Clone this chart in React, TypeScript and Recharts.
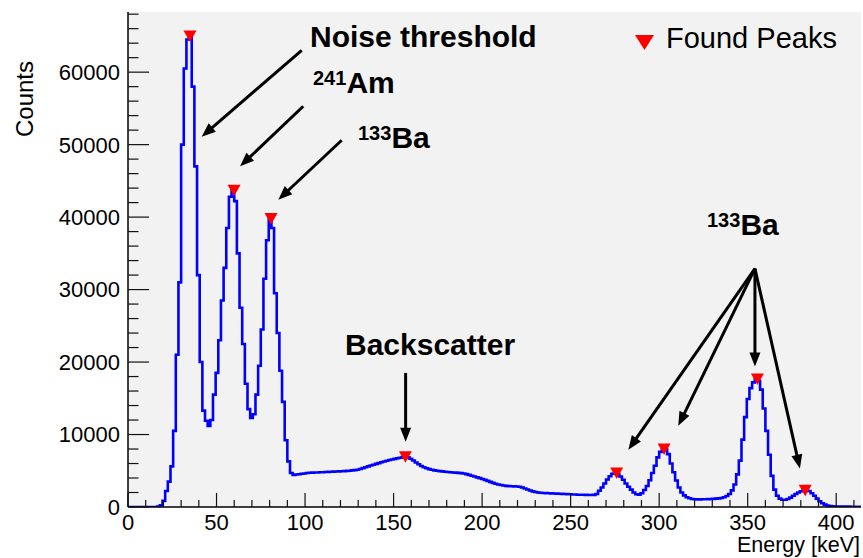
import React from 'react';
import { ComposedChart, Line, Scatter, XAxis, YAxis, CartesianGrid, ReferenceLine } from 'recharts';

const FONT = '"Liberation Sans", Arial, Helvetica, sans-serif';
const BIN_WIDTH = 1.5; // keV per bin
const X_MAX = 414;
const Y_MAX = 68300;

// Counts per 1.5 keV bin, first bin starts at 0 keV (10 bins = 15 keV per row)
const counts = [
  0, 0, 0, 0, 0, 0, 0, 0, 0, 0,
  0, 50, 250, 850, 2200, 3500, 5600, 10500, 21000, 31000,
  50000, 60500, 64500, 65000, 58000, 47000, 32000, 20000, 13300, 11900,
  11200, 12000, 15500, 18500, 23000, 28500, 33000, 38500, 42800, 43700,
  42200, 35000, 27500, 22500, 17000, 13500, 12300, 12800, 15500, 19500,
  24500, 31500, 36800, 39800, 38500, 29500, 24000, 18800, 14500, 9200,
  6300, 4700, 4420, 4480, 4520, 4580, 4630, 4700, 4720, 4740,
  4760, 4770, 4790, 4800, 4820, 4840, 4860, 4880, 4900, 4910,
  4930, 4950, 4980, 5010, 5050, 5090, 5150, 5250, 5360, 5480,
  5600, 5720, 5830, 5950, 6060, 6170, 6280, 6390, 6480, 6560,
  6640, 6720, 6800, 6880, 6950, 6850, 6650, 6420, 6150, 5900,
  5650, 5480, 5340, 5220, 5130, 5060, 5000, 4950, 4910, 4870,
  4830, 4800, 4770, 4740, 4710, 4670, 4620, 4540, 4430, 4320,
  4200, 4090, 3980, 3870, 3740, 3600, 3460, 3330, 3210, 3110,
  3030, 2960, 2910, 2880, 2860, 2840, 2820, 2790, 2700, 2560,
  2410, 2270, 2150, 2060, 2000, 1960, 1930, 1910, 1895, 1880,
  1865, 1850, 1830, 1810, 1790, 1770, 1750, 1730, 1715, 1700,
  1690, 1680, 1675, 1665, 1660, 1670, 1800, 2250, 2700, 3250,
  3800, 4250, 4580, 4700, 4550, 4200, 3750, 3250, 2800, 2400,
  2000, 1750, 1680, 1900, 2350, 2900, 3700, 4700, 5700, 6850,
  7600, 8000, 7950, 7300, 6000, 4800, 3650, 2700, 2000, 1600,
  1350, 1200, 1100, 1060, 1050, 1050, 1060, 1070, 1080, 1100,
  1120, 1150, 1190, 1250, 1350, 1520, 1800, 2300, 3100, 4500,
  6400, 9300, 12400, 14900, 16400, 17200, 17650, 17400, 16200, 13600,
  10500, 7200, 4300, 2400, 1550, 1150, 1000, 1000, 1100, 1300,
  1550, 1800, 2000, 2180, 2280, 2300, 2200, 1900, 1550, 1150,
  800, 520, 330, 200, 130, 90, 70, 60, 55, 50,
  45, 45, 40, 40, 40, 40,
];

// Peaks found by the search
const peakEnergies = [35, 59.9, 80.8, 156.7, 276, 302.8, 355.5, 382.5];
const peakCounts = [65000, 43700, 39800, 6950, 4700, 8000, 17650, 2300];

const xTicks = [
  0, 10, 20, 30, 40, 50, 60, 70, 80, 90, 100, 110, 120, 130, 140, 150, 160, 170, 180, 190, 200,
  210, 220, 230, 240, 250, 260, 270, 280, 290, 300, 310, 320, 330, 340, 350, 360, 370, 380, 390,
  400, 410,
];
const yTicks = [
  0, 2000, 4000, 6000, 8000, 10000, 12000, 14000, 16000, 18000, 20000, 22000, 24000, 26000,
  28000, 30000, 32000, 34000, 36000, 38000, 40000, 42000, 44000, 46000, 48000, 50000, 52000,
  54000, 56000, 58000, 60000, 62000, 64000, 66000, 68000,
];

// Annotation arrows, in axis units (keV, counts)
const arrows = [
  { x1: 98.1, y1: 63000, x2: 41.6, y2: 51100 },
  { x1: 99.0, y1: 55300, x2: 63.3, y2: 47000 },
  { x1: 120.7, y1: 50600, x2: 84.9, y2: 42400 },
  { x1: 156.8, y1: 18500, x2: 156.8, y2: 9000 },
  { x1: 354.1, y1: 32900, x2: 282.6, y2: 7900 },
  { x1: 354.1, y1: 32900, x2: 310.8, y2: 11200 },
  { x1: 354.1, y1: 32900, x2: 354.1, y2: 19400 },
  { x1: 354.1, y1: 32900, x2: 379.5, y2: 5300 },
];

const histData = counts
  .map((c, i) => ({ energy: i * BIN_WIDTH, counts: c }))
  .concat([{ energy: X_MAX, counts: counts[counts.length - 1] }]);

const peakData = peakEnergies.map((e, i) => ({ energy: e, counts: peakCounts[i] }));

// ROOT-style ticks: pointing into the frame, labels only on major ticks
const XTick = (props: any) => {
  const { x, y, payload } = props;
  const major = payload.value % 50 === 0;
  return (
    <g>
      <line x1={x} x2={x} y1={y} y2={y - (major ? 14 : 7)} stroke="#111" strokeWidth={1.2} />
      {major && (
        <text x={x} y={y + 23} textAnchor="middle" fontSize={22} fontFamily={FONT} fill="#000">
          {payload.value}
        </text>
      )}
    </g>
  );
};

const YTick = (props: any) => {
  const { x, y, payload } = props;
  const major = payload.value % 10000 === 0;
  return (
    <g>
      <line x1={x} x2={x + (major ? 21 : 10.5)} y1={y} y2={y} stroke="#111" strokeWidth={1.2} />
      {major && (
        <text x={x - 8} y={y} dy="0.36em" textAnchor="end" fontSize={22} fontFamily={FONT} fill="#000">
          {payload.value}
        </text>
      )}
    </g>
  );
};

const PeakMarker = (props: any) => {
  const { cx, cy } = props;
  return <polygon points={`${cx - 6.5},${cy - 5.5} ${cx + 6.5},${cy - 5.5} ${cx},${cy + 6}`} fill="#ff0000" />;
};

const Arrow = (props: any) => {
  const { x1, y1, x2, y2 } = props;
  const dx = x2 - x1;
  const dy = y2 - y1;
  const len = Math.hypot(dx, dy) || 1;
  const ux = dx / len;
  const uy = dy / len;
  const head = 14;
  const half = 5.5;
  const bx = x2 - ux * head;
  const by = y2 - uy * head;
  const px = -uy * half;
  const py = ux * half;
  return (
    <g>
      <line x1={x1} y1={y1} x2={bx + ux * 2} y2={by + uy * 2} stroke="#000" strokeWidth={3} />
      <polygon points={`${x2},${y2} ${bx + px},${by + py} ${bx - px},${by - py}`} fill="#000" />
    </g>
  );
};

const Isotope = ({ x, y, mass, name }: { x: number; y: number; mass: string; name: string }) => (
  <text x={x} y={y} fontFamily={FONT} fontWeight="bold" fill="#000">
    <tspan fontSize={20} dy={-8}>{mass}</tspan>
    <tspan fontSize={30} dy={8}>{name}</tspan>
  </text>
);

export default function App() {
  return (
    <div style={{ position: 'absolute', left: 0, top: 0, width: 863, height: 558, background: '#fff' }}>
      <ComposedChart width={863} height={558} data={histData} margin={{ top: 12, right: 2, left: 0, bottom: 0 }}>
        <CartesianGrid horizontal={false} vertical={false} fill="#f2f2f2" />
        <XAxis
          dataKey="energy"
          type="number"
          domain={[0, X_MAX]}
          allowDataOverflow
          ticks={xTicks}
          interval={0}
          height={51}
          tickSize={0}
          tickMargin={0}
          tickLine={false}
          axisLine={{ stroke: '#000', strokeWidth: 1.5 }}
          tick={<XTick />}
        />
        <XAxis xAxisId="top" orientation="top" type="number" domain={[0, X_MAX]} height={0} tick={false} tickLine={false} axisLine={{ stroke: '#000', strokeWidth: 1.5 }} />
        <YAxis
          type="number"
          domain={[0, Y_MAX]}
          allowDataOverflow
          ticks={yTicks}
          interval={0}
          width={128}
          tickSize={0}
          tickMargin={0}
          tickLine={false}
          axisLine={{ stroke: '#000', strokeWidth: 1.5 }}
          tick={<YTick />}
        />
        <YAxis yAxisId="right" orientation="right" type="number" domain={[0, Y_MAX]} width={0} tick={false} tickLine={false} axisLine={{ stroke: '#000', strokeWidth: 1.5 }} />
        <Line
          type="stepAfter"
          dataKey="counts"
          stroke="#0000ff"
          strokeWidth={2.6}
          dot={false}
          activeDot={false}
          isAnimationActive={false}
        />
        <Scatter data={peakData} dataKey="counts" shape={<PeakMarker />} isAnimationActive={false} />
        {arrows.map((a, i) => (
          <ReferenceLine
            key={i}
            segment={[{ x: a.x1, y: a.y1 }, { x: a.x2, y: a.y2 }]}
            shape={<Arrow />}
          />
        ))}
      </ComposedChart>
      <svg
        width={863}
        height={558}
        style={{ position: 'absolute', left: 0, top: 0, pointerEvents: 'none' }}
      >
        <text x={310} y={47} fontSize={30} fontWeight="bold" fontFamily={FONT} fill="#000">Noise threshold</text>
        <Isotope x={313} y={93} mass="241" name="Am" />
        <Isotope x={358} y={148} mass="133" name="Ba" />
        <text x={345} y={355} fontSize={30} fontWeight="bold" fontFamily={FONT} fill="#000">Backscatter</text>
        <Isotope x={707} y={235} mass="133" name="Ba" />
        <polygon points="635,35 654,35 644.5,50" fill="#ff0000" />
        <text x={666} y={48} fontSize={29} fontFamily={FONT} fill="#000">Found Peaks</text>
        <text x={33} y={99} fontSize={24} fontFamily={FONT} fill="#000" textAnchor="middle" transform="rotate(-90 33 99)">Counts</text>
        <text x={860} y={552} fontSize={21.5} fontFamily={FONT} fill="#000" textAnchor="end">Energy [keV]</text>
      </svg>
    </div>
  );
}
